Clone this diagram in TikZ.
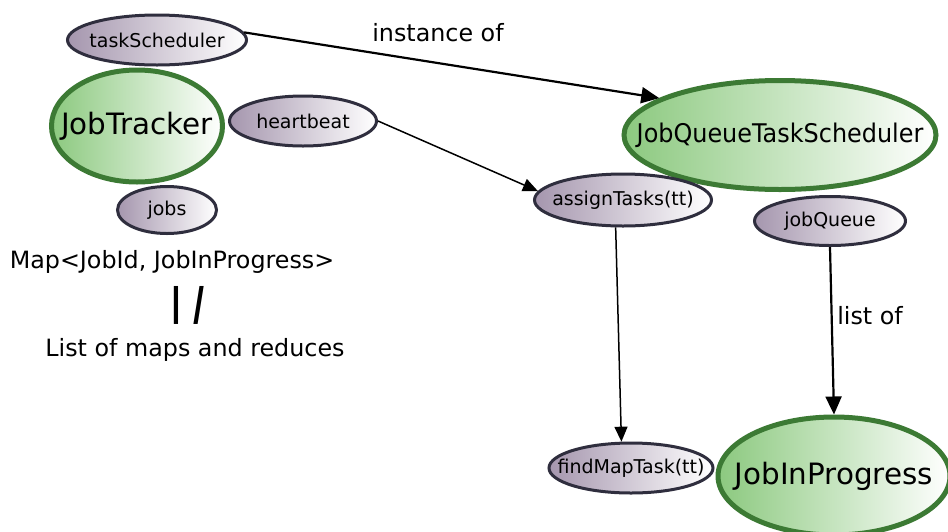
\documentclass[tikz,border=0pt]{standalone}
\usepackage{fontspec}
\setmainfont{DejaVu Sans}
\newfontfamily\slantfont{DejaVu Sans}[FakeSlant=0.16]
\usetikzlibrary{shapes.geometric,arrows.meta}

\definecolor{jtgreen}{HTML}{3C7A34}
\definecolor{jtfill}{HTML}{8CC97F}
\definecolor{mdfill}{HTML}{A596AE}
\definecolor{mdline}{HTML}{2F2E3E}

% text that does not widen its ellipse
\newcommand{\lbl}[1]{\makebox[0pt]{#1}}

\tikzset{
    big/.style={ellipse, draw=jtgreen, line width=5pt, left color=jtfill, right color=white,
        inner sep=0pt, font=\fontsize{29.4}{32}\selectfont},
    small/.style={ellipse, draw=mdline, line width=3pt, left color=mdfill, right color=white,
        inner sep=0pt, font=\fontsize{19}{22}\selectfont},
    txt/.style={font=\fontsize{23.8}{27}\selectfont},
    link/.style={-{Triangle[length=18pt,width=16pt]}, line width=2.2pt},
    thinlink/.style={-{Triangle[length=15pt,width=13pt]}, line width=1.5pt}
}

\begin{document}
\begin{tikzpicture}[x=1pt,y=-1pt]
    \useasboundingbox (0,0) rectangle (948,531);

    % left side
    \node[small, minimum width=179pt, minimum height=50pt] (ts) at (157,40) {\lbl{taskScheduler}};
    \node[big, minimum width=171pt, minimum height=112pt] (jt) at (137,126) {\lbl{JobTracker}};
    \node[small, minimum width=147pt, minimum height=50pt] (hb) at (303,121) {\lbl{heartbeat}};
    \node[small, minimum width=99pt, minimum height=47pt] (jobs) at (167,210) {\lbl{jobs}};

    \node[txt] (map) at (172,262) {Map<JobId, JobInProgress>};
    \node[font=\fontsize{38}{38}\selectfont] (eq) at (187,305) {\textbf{|}\,{\slantfont\bfseries|}};
    \node[txt] (lst) at (195,350) {List of maps and reduces};

    % right side
    \node[big, minimum width=312pt, minimum height=109pt] (jqts) at (780,135)
        {\lbl{\fontsize{25.7}{28}\selectfont\scalebox{0.93}[1]{JobQueueTaskScheduler}}};
    \node[small, minimum width=177pt, minimum height=52pt] (at) at (623,200) {\lbl{assignTasks(tt)}};
    \node[small, minimum width=151pt, minimum height=49pt] (jq) at (830,221) {\lbl{jobQueue}};
    \node[small, minimum width=164pt, minimum height=50pt] (fm) at (631,468) {\lbl{findMapTask(tt)}};
    \node[big, minimum width=232pt, minimum height=118pt] (jip) at (834,476) {\lbl{JobInProgress}};

    \node[txt] (inst) at (438,33) {instance of};
    \node[txt] (lof) at (870,316) {list of};

    % connectors
    \draw[link] (ts.5) -- (jqts.163);
    \draw[thinlink] (hb.east) -- (at.174);
    \draw[thinlink] (at.255) -- (fm.110);
    \draw[link] (jq.south) -- (jip.north);
\end{tikzpicture}
\end{document}
